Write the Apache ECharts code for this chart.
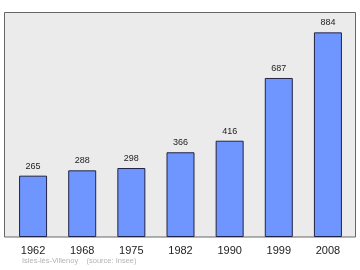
<!DOCTYPE html>
<html><head><meta charset="utf-8">
<script src="https://cdn.jsdelivr.net/npm/echarts@6/dist/echarts.min.js"></script>
<style>html,body{margin:0;padding:0;background:#fff}#c{width:360px;height:270px}</style>
</head><body><div id="c"></div>
<script>
const categories = ['1962','1968','1975','1982','1990','1999','2008'];
const population = [265, 288, 298, 366, 416, 687, 884];
const footer = 'Isles-lès-Villenoy    (source: Insee)';

const chart = echarts.init(document.getElementById('c'), null, {renderer:'canvas'});
chart.setOption({
  animation: false,
  graphic: [
    {type:'rect', shape:{x:4.5,y:12.5,width:351,height:224.5}, style:{fill:'#ebebeb', stroke:'#666', lineWidth:1}, z:-10},
    {type:'text', left:22, top:257, style:{text:footer, fill:'#b4b4b4', font:'7.5px "Liberation Sans", Arial, sans-serif'}}
  ],
  grid: {left:8.5, right:7.5, top:12, bottom:33},
  xAxis: {
    type:'category', data:categories,
    axisLine:{show:false}, axisTick:{show:false},
    axisLabel:{color:'#222', fontSize:11, margin:8, fontFamily:'"Liberation Sans", Arial, sans-serif'}
  },
  yAxis: {type:'value', min:0, max:972, show:false, splitLine:{show:false}},
  series: [{
    type:'bar', data:population, barWidth:28,
    itemStyle:{color:'#6f96ff', borderColor:'#222244', borderWidth:1},
    label:{show:true, position:'top', distance:5, color:'#222', fontSize:9, fontFamily:'"Liberation Sans", Arial, sans-serif'}
  }]
});
</script></body></html>
